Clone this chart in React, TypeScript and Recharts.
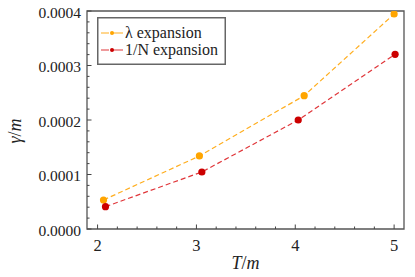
import React from 'react';
import { LineChart, Line, XAxis, YAxis, Legend, ReferenceArea, Label } from 'recharts';

// series: lambda expansion
const lambdaT = [2.06, 3.03, 4.09, 5.0];
const lambdaGamma = [0.0000532, 0.000134, 0.0002446, 0.0003945];
// series: 1/N expansion
const nT = [2.08, 3.055, 4.03, 5.01];
const nGamma = [0.000041, 0.0001046, 0.0002, 0.0003205];

const xMajorTicks = [2, 3, 4, 5];
const yMajorTicks = [0, 0.0001, 0.0002, 0.0003, 0.0004];
const xDomain: [number, number] = [1.893, 5.1];
const yDomain: [number, number] = [0, 0.0004];

const xTicks: number[] = [];
for (let i = 0; i <= 15; i++) xTicks.push(+(2 + i * 0.2).toFixed(2));
const yTicks: number[] = [];
for (let i = 0; i <= 20; i++) yTicks.push(+(i * 0.00002).toFixed(6));

const lambdaData = lambdaT.map((t, i) => ({ x: t, y: lambdaGamma[i] }));
const nData = nT.map((t, i) => ({ x: t, y: nGamma[i] }));

const FONT = 'Liberation Serif, DejaVu Serif, serif';
const ORANGE_LINE = '#FFAE1F';
const ORANGE_DOT = '#FFA500';
const RED_LINE = '#E0363A';
const RED_DOT = '#CC0000';

const txtStyle: React.CSSProperties = { fontFamily: FONT };

const isMajor = (v: number, list: number[]) => list.some((m) => Math.abs(m - v) < 1e-9);

const YTick = (props: any) => {
  const { x, y, payload } = props;
  const v = payload.value;
  const major = isMajor(v, yMajorTicks);
  return (
    <g>
      <line x1={x} x2={x + (major ? 4.5 : 2.5)} y1={y} y2={y} stroke="#444" strokeWidth={1} />
      {major && (
        <text x={x - 6} y={y + 6.5} textAnchor="end" fontSize={15.5} fill="#222" fontFamily={FONT} style={txtStyle}>
          {v.toFixed(4)}
        </text>
      )}
    </g>
  );
};

const XTick = (props: any) => {
  const { x, y, payload } = props;
  const v = payload.value;
  const major = isMajor(v, xMajorTicks);
  return (
    <g>
      <line x1={x} x2={x} y1={y} y2={y - (major ? 4.5 : 2.5)} stroke="#444" strokeWidth={1} />
      {major && (
        <text x={x} y={y + 22} textAnchor="middle" fontSize={16.5} fill="#222" fontFamily={FONT} style={txtStyle}>
          {String(v)}
        </text>
      )}
    </g>
  );
};

const LegendBox = () => {
  const entries = [
    { label: 'λ expansion', line: ORANGE_LINE, dot: ORANGE_DOT },
    { label: '1/N expansion', line: RED_LINE, dot: RED_DOT },
  ];
  return (
    <svg width={129} height={48} style={{ display: 'block' }}>
      <rect x={0.75} y={0.75} width={127.5} height={46.5} fill="#fff" stroke="#666" strokeWidth={1.5} />
      {entries.map((e, i) => {
        const cy = 16 + i * 17;
        return (
          <g key={i}>
            <line x1={4} x2={26} y1={cy} y2={cy} stroke={e.line} strokeWidth={1.2} strokeDasharray="8 3 11" />
            <circle cx={15} cy={cy} r={2} fill={e.dot} />
            <text x={28} y={cy + 5} fontSize={16} fill="#222" fontFamily={FONT} style={txtStyle}>
              {e.label}
            </text>
          </g>
        );
      })}
    </svg>
  );
};

export default function App() {
  return (
    <div style={{ position: 'absolute', left: 0, top: 0, width: 415, height: 277, background: '#fff', fontFamily: FONT }}>
      <LineChart width={415} height={277} margin={{ top: 11, right: 11, left: 7, bottom: 8 }} style={{ fontFamily: FONT }}>
        <XAxis
          type="number"
          dataKey="x"
          domain={xDomain}
          ticks={xTicks}
          interval={0}
          tickSize={0}
          tickMargin={0}
          axisLine={false}
          tickLine={false}
          tick={<XTick />}
          height={40}
          allowDataOverflow
        >
          <Label
            content={(p: any) => {
              const vb = p.viewBox;
              return (
                <text x={vb.x + vb.width / 2} y={vb.y + 40} textAnchor="middle" fontSize={18} fill="#222" fontFamily={FONT} style={txtStyle}>
                  <tspan fontStyle="italic">T</tspan>
                  <tspan>/</tspan>
                  <tspan fontStyle="italic">m</tspan>
                </text>
              );
            }}
          />
        </XAxis>
        <YAxis
          type="number"
          domain={yDomain}
          ticks={yTicks}
          interval={0}
          tickSize={0}
          tickMargin={0}
          axisLine={false}
          tickLine={false}
          tick={<YTick />}
          width={80}
          allowDataOverflow
        >
          <Label
            content={(p: any) => {
              const vb = p.viewBox;
              const cx = vb.x + 14;
              const cy = vb.y + vb.height / 2 + 11;
              return (
                <text x={cx} y={cy} transform={`rotate(-90, ${cx}, ${cy})`} textAnchor="middle" fontSize={18} fill="#222" fontFamily={FONT} style={txtStyle}>
                  <tspan fontStyle="italic">γ</tspan>
                  <tspan>/</tspan>
                  <tspan fontStyle="italic">m</tspan>
                </text>
              );
            }}
          />
        </YAxis>
        <ReferenceArea x1={xDomain[0]} x2={xDomain[1]} y1={yDomain[0]} y2={yDomain[1]} fill="none" fillOpacity={0} stroke="#555" strokeWidth={1.3} />
        <Line
          data={lambdaData}
          dataKey="y"
          name="λ expansion"
          stroke={ORANGE_LINE}
          strokeWidth={1.2}
          strokeDasharray="5 3"
          dot={{ r: 3.6, fill: ORANGE_DOT, stroke: 'none' }}
          activeDot={false}
          isAnimationActive={false}
        />
        <Line
          data={nData}
          dataKey="y"
          name="1/N expansion"
          stroke={RED_LINE}
          strokeWidth={1.2}
          strokeDasharray="5 3"
          dot={{ r: 3.6, fill: RED_DOT, stroke: 'none' }}
          activeDot={false}
          isAnimationActive={false}
        />
        <Legend
          layout="horizontal"
          verticalAlign="middle"
          align="center"
          content={() => <LegendBox />}
          wrapperStyle={{ position: 'absolute', left: 97, top: 17, width: 129, height: 48 }}
        />
      </LineChart>
    </div>
  );
}
